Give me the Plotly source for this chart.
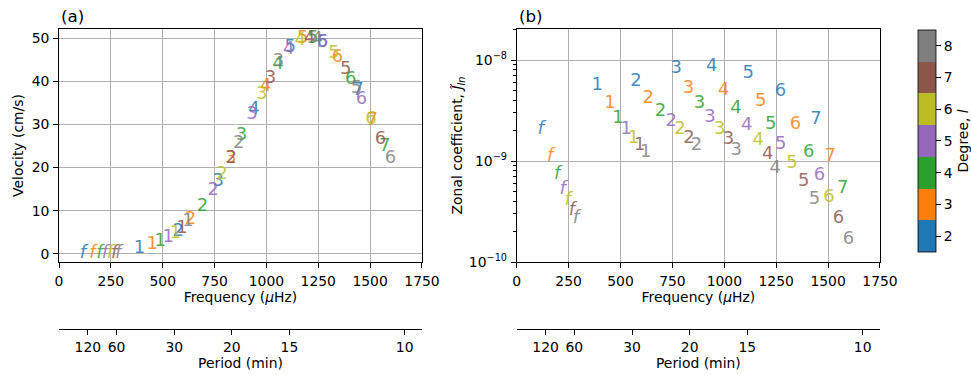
import plotly.graph_objects as go

# Mode identification: degree l, overtone n (0 = f-mode)
degree_l = [2, 3, 4, 5, 6, 7, 8,
            2, 3, 4, 5, 6, 7, 8,
            2, 3, 4, 5, 6, 7, 8,
            2, 3, 4, 5, 6, 7, 8,
            2, 3, 4, 5, 6, 7, 8,
            2, 3, 4, 5, 6, 7, 8,
            2, 3, 4, 5, 6, 7, 8,
            2, 3, 4]
overtone_n = [0, 0, 0, 0, 0, 0, 0,
              1, 1, 1, 1, 1, 1, 1,
              2, 2, 2, 2, 2, 2, 2,
              3, 3, 3, 3, 3, 3, 3,
              4, 4, 4, 4, 4, 4, 4,
              5, 5, 5, 5, 5, 5, 5,
              6, 6, 6, 6, 6, 6, 6,
              7, 7, 7]
freq_uHz = [115, 161, 195, 222, 245, 266, 285,
            388, 449, 488, 527, 562, 593, 622,
            575, 634, 692, 744, 786, 830, 866,
            768, 828, 880, 931, 978, 1020, 1058,
            940, 997, 1056, 1108, 1163, 1209, 1245,
            1115, 1175, 1224, 1272, 1326, 1382, 1434,
            1270, 1343, 1407, 1458, 1504, 1550, 1598,
            1441, 1510, 1570]
velocity_cms = [0.2, 0.2, 0.2, 0.2, 0.2, 0.2, 0.2,
                1.3, 2.1, 2.85, 3.9, 4.8, 5.95, 7.5,
                5.2, 7.9, 11.0, 14.6, 18.3, 22.0, 25.5,
                16.8, 22.2, 27.4, 32.2, 36.9, 40.6, 44.6,
                33.5, 38.8, 43.8, 47.3, 49.4, 50.0, 49.6,
                47.9, 50.0, 50.0, 49.0, 46.5, 42.7, 38.4,
                49.0, 45.4, 40.5, 35.7, 31.2, 26.6, 22.0,
                37.9, 30.9, 24.9]
zonal_coeff = [2.03e-9, 1.11e-9, 7.3e-10, 5.25e-10, 4.04e-10, 3.27e-10, 2.71e-10,
               5.6e-9, 3.74e-9, 2.62e-9, 2.04e-9, 1.68e-9, 1.42e-9, 1.21e-9,
               6.1e-9, 4.13e-9, 3.09e-9, 2.46e-9, 2.04e-9, 1.68e-9, 1.41e-9,
               8.2e-9, 5.19e-9, 3.68e-9, 2.72e-9, 2.07e-9, 1.62e-9, 1.27e-9,
               8.6e-9, 4.99e-9, 3.29e-9, 2.25e-9, 1.58e-9, 1.15e-9, 8.5e-10,
               7.3e-9, 3.89e-9, 2.32e-9, 1.47e-9, 9.5e-10, 6.25e-10, 4.18e-10,
               4.89e-9, 2.32e-9, 1.22e-9, 7.2e-10, 4.34e-10, 2.67e-10, 1.68e-10,
               2.56e-9, 1.11e-9, 5.37e-10]

degrees = [2, 3, 4, 5, 6, 7, 8]
degree_colors = ["#1f77b4", "#ff7f0e", "#2ca02c", "#9467bd", "#bcbd22", "#8c564b", "#7f7f7f"]
period_ticks_min = [120, 60, 30, 20, 15, 10]
freq_ticks = [0, 250, 500, 750, 1000, 1250, 1500, 1750]
zonal_ticks = [1e-10, 1e-9, 1e-8]
zonal_ticktext = ["10<sup>−10</sup>", "10<sup>−9</sup>", "10<sup>−8</sup>"]

FONT = "DejaVu Sans"
TXT = 13.9
MARK = 18
TL = 5


def hex_rgba(h, a):
    h = h.lstrip("#")
    return "rgba(%d,%d,%d,%.2f)" % (int(h[0:2], 16), int(h[2:4], 16), int(h[4:6], 16), a)


def label(n):
    return "<i>f</i>" if n == 0 else str(n)


fig = go.Figure()

for l, col in zip(degrees, degree_colors):
    idx = [i for i, d in enumerate(degree_l) if d == l]
    xs = [freq_uHz[i] for i in idx]
    txt = [label(overtone_n[i]) for i in idx]
    fig.add_trace(go.Scatter(
        x=xs, y=[velocity_cms[i] for i in idx], mode="text", text=txt,
        textposition="middle center",
        textfont=dict(family=FONT, size=MARK, color=hex_rgba(col, 0.85)),
        xaxis="x", yaxis="y", showlegend=False, hoverinfo="skip"))
    fig.add_trace(go.Scatter(
        x=xs, y=[zonal_coeff[i] for i in idx], mode="text", text=txt,
        textposition="middle center",
        textfont=dict(family=FONT, size=MARK, color=hex_rgba(col, 0.85)),
        xaxis="x2", yaxis="y2", showlegend=False, hoverinfo="skip"))

# discrete colorscale for the degree colorbar
nc = len(degree_colors)
cscale = []
for i, c in enumerate(degree_colors):
    cscale.append([i / nc, c])
    cscale.append([(i + 1) / nc, c])

fig.add_trace(go.Scatter(
    x=freq_uHz, y=velocity_cms, mode="markers", xaxis="x", yaxis="y",
    marker=dict(size=0.1, opacity=0, color=degree_l, colorscale=cscale,
                cmin=1.5, cmax=8.5, showscale=True,
                colorbar=dict(
                    x=1.0463, xanchor="left", xpad=0, ypad=0,
                    y=0.6267, yanchor="middle", len=0.74, lenmode="fraction",
                    thickness=18, outlinecolor="black", outlinewidth=0.8,
                    tickvals=degrees, ticks="outside", ticklen=TL,
                    tickcolor="black",
                    tickfont=dict(family=FONT, size=TXT, color="black"),
                    title=dict(text="Degree, <i>l</i>", side="right",
                               font=dict(family=FONT, size=TXT, color="black")))),
    showlegend=False, hoverinfo="skip"))

# invisible traces to carry the period axes
fig.add_trace(go.Scatter(x=freq_uHz, y=velocity_cms, mode="markers",
                         marker=dict(opacity=0, size=0.1), xaxis="x3", yaxis="y",
                         showlegend=False, hoverinfo="skip"))
fig.add_trace(go.Scatter(x=freq_uHz, y=zonal_coeff, mode="markers",
                         marker=dict(opacity=0, size=0.1), xaxis="x4", yaxis="y2",
                         showlegend=False, hoverinfo="skip"))

period_freqs = [1e6 / (p * 60.0) for p in period_ticks_min]
period_text = [str(p) for p in period_ticks_min]

common_x = dict(range=[0, 1750], tickvals=freq_ticks, showline=True, linecolor="black",
                linewidth=0.8, mirror=True, ticks="outside", ticklen=TL, tickcolor="black",
                showgrid=True, gridcolor="#b0b0b0", gridwidth=0.8, zeroline=False,
                automargin=False, ticklabelstandoff=1,
                tickfont=dict(family=FONT, size=TXT, color="black"))
per_x = dict(range=[0, 1750], tickvals=period_freqs, ticktext=period_text,
             showline=True, linecolor="black", linewidth=0.8, ticks="outside",
             ticklen=TL, tickcolor="black", showgrid=False, zeroline=False,
             anchor="free", position=0, side="bottom", automargin=False,
             tickfont=dict(family=FONT, size=TXT, color="black"),
             title=dict(text="Period (min)", standoff=1,
                        font=dict(family=FONT, size=TXT, color="black")))
common_y = dict(showline=True, linecolor="black", linewidth=0.8, mirror=True,
                ticks="outside", ticklen=TL, tickcolor="black", showgrid=True,
                gridcolor="#b0b0b0", gridwidth=0.8, zeroline=False, automargin=False,
                ticklabelstandoff=1,
                tickfont=dict(family=FONT, size=TXT, color="black"))

fig.update_layout(
    width=971, height=375,
    margin=dict(l=59, r=91, t=29, b=46, autoexpand=False),
    paper_bgcolor="white", plot_bgcolor="white",
    font=dict(family=FONT, size=TXT, color="black"),
    xaxis=dict(domain=[0, 0.4421], anchor="y",
               title=dict(text="Frequency (<i>μ</i>Hz)", standoff=0,
                          font=dict(family=FONT, size=TXT)), **common_x),
    xaxis2=dict(domain=[0.5575, 1], anchor="y2",
                title=dict(text="Frequency (<i>μ</i>Hz)", standoff=0,
                           font=dict(family=FONT, size=TXT)), **common_x),
    xaxis3=dict(overlaying="x", **per_x),
    xaxis4=dict(overlaying="x2", **per_x),
    yaxis=dict(domain=[0.2233, 1], anchor="x", range=[-1.86, 52.1],
               tickvals=[0, 10, 20, 30, 40, 50],
               title=dict(text="Velocity (cm/s)", standoff=4,
                          font=dict(family=FONT, size=TXT)), **common_y),
    yaxis2=dict(domain=[0.2233, 1], anchor="x2", type="log", range=[-10, -7.693],
                tickvals=zonal_ticks, ticktext=zonal_ticktext,
                minor=dict(ticks="outside", ticklen=2.5, tickcolor="black", dtick="D1",
                           showgrid=False),
                title=dict(text="Zonal coefficient, <i>J̃</i><sub><i>ln</i></sub>",
                           standoff=2, font=dict(family=FONT, size=TXT)), **common_y),
    annotations=[
        dict(text="(a)", xref="paper", yref="paper", x=0.0, y=1.0, xanchor="left",
             yanchor="bottom", yshift=1, showarrow=False,
             font=dict(family=FONT, size=16.7, color="black")),
        dict(text="(b)", xref="paper", yref="paper", x=0.5575, y=1.0, xanchor="left",
             yanchor="bottom", yshift=1, showarrow=False,
             font=dict(family=FONT, size=16.7, color="black")),
    ],
)

fig.write_html("out.html", config={"displayModeBar": False},
               post_script="document.body.style.margin='0';document.body.style.overflow='hidden';")
